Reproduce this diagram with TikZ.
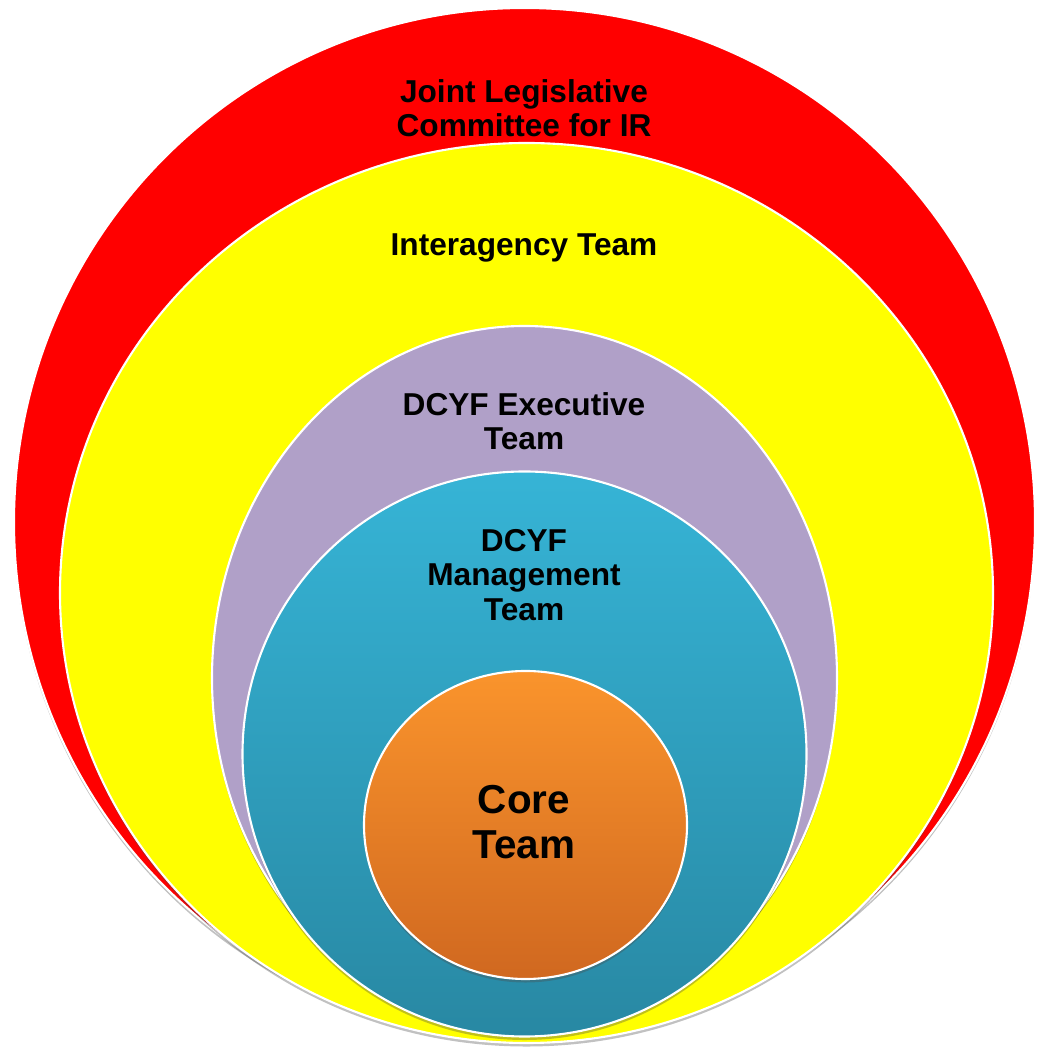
\documentclass[tikz,border=0pt]{standalone}
\usepackage{fontspec}
\setsansfont{Liberation Sans}
\usepackage{xcolor}
\usepackage{tikz}
\usetikzlibrary{shapes.geometric, positioning, shadows}

\definecolor{ringred}{RGB}{255,0,0}
\definecolor{ringyellow}{RGB}{255,255,0}
\definecolor{ringpurple}{RGB}{176,160,200}
\definecolor{ringbluetop}{RGB}{54,180,214}
\definecolor{ringbluebot}{RGB}{40,136,163}
\definecolor{coretop}{RGB}{250,148,44}
\definecolor{corebot}{RGB}{208,104,32}

\begin{document}
\begin{tikzpicture}[
    ring/.style={ellipse, draw=white, line width=1.2pt, inner sep=0pt, drop shadow={shadow xshift=0pt, shadow yshift=-2pt, opacity=0.35, fill=black!70}},
    ringtext/.style={font=\sffamily\bfseries\fontsize{18}{19.5}\selectfont, align=center, text=black},
    coretext/.style={font=\sffamily\bfseries\fontsize{23}{25.5}\selectfont, align=center, text=black}
]
\useasboundingbox (0,0) rectangle (20.82,21.02);

% Outer ring
\node[ring, fill=ringred, minimum width=20.42cm, minimum height=20.56cm] (legis) at (10.49,10.58) {};

% Interagency ring
\node[ring, fill=ringyellow, minimum width=18.66cm, minimum height=18.0cm] (inter) at (10.53,9.16) {};

% Executive ring
\node[ring, fill=ringpurple, minimum width=12.5cm, minimum height=14.08cm] (exec) at (10.49,7.46) {};

% Management ring
\node[ring, top color=ringbluetop, bottom color=ringbluebot, minimum width=11.28cm, minimum height=11.3cm] (mgmt) at (10.49,5.94) {};

% Core
\node[ring, top color=coretop, bottom color=corebot, minimum width=6.46cm, minimum height=6.16cm] (core) at (10.51,4.52) {};

% Labels
\node[ringtext] (legislabel) at (10.48,18.86) {Joint Legislative\\Committee for IR};
\node[ringtext] (interlabel) at (10.48,16.06) {Interagency Team};
\node[ringtext] (execlabel) at (10.48,12.6) {DCYF Executive\\Team};
\node[ringtext] (mgmtlabel) at (10.48,9.52) {DCYF\\Management\\Team};
\node[coretext] (corelabel) at (10.48,4.58) {Core\\Team};

\end{tikzpicture}
\end{document}
